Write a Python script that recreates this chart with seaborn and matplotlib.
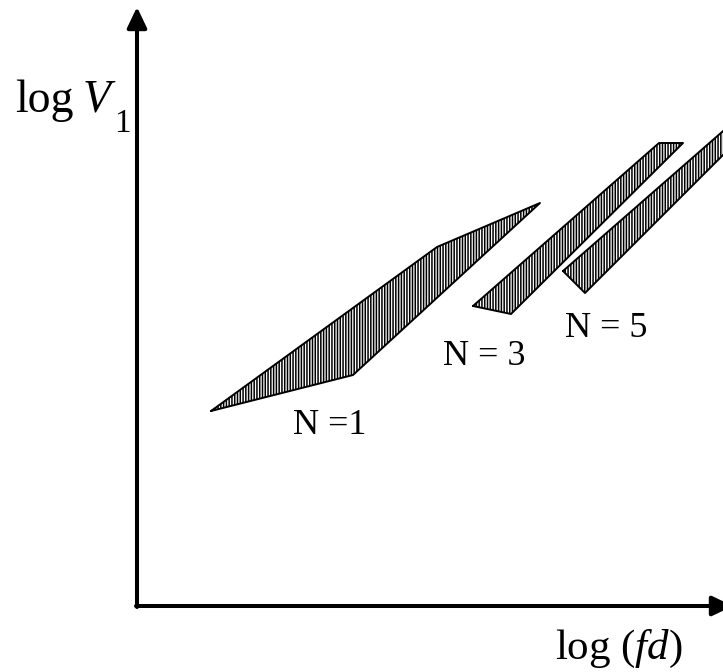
import matplotlib
matplotlib.use("Agg")
import matplotlib.pyplot as plt
import seaborn as sns
import pandas as pd

# Operating regions in the log(fd) - log V1 plane (schematic units)
n1_x = [211, 353, 540, 437]
n1_y = [411, 375, 203, 247]
n3_x = [473, 511, 683, 659]
n3_y = [306, 314, 143, 143]
n5_x = [563, 585, 745, 738]
n5_y = [271, 293, 133, 118]
region_labels = ["N =1", "N = 3", "N = 5"]
label_x = [293, 443, 565]
label_y = [434, 365, 337]

sns.set_theme(style="white")
plt.rcParams["font.family"] = ["Liberation Serif", "DejaVu Serif"]
plt.rcParams["mathtext.fontset"] = "custom"
plt.rcParams["mathtext.rm"] = "Liberation Serif"
plt.rcParams["mathtext.it"] = "Liberation Serif:italic"
plt.rcParams["hatch.linewidth"] = 1.1
plt.rcParams["hatch.color"] = "black"

fig = plt.figure(figsize=(7.23, 6.72), dpi=100)
ax = fig.add_axes([0, 0, 1, 1])

regions = [(n1_x, n1_y), (n3_x, n3_y), (n5_x, n5_y)]
for i, (xs, ys) in enumerate(regions):
    ax.fill(xs, ys, facecolor="white", hatch="|" * 6, edgecolor="black",
            linewidth=0)
    df = pd.DataFrame({"x": xs + xs[:1], "y": ys + ys[:1]})
    sns.lineplot(data=df, x="x", y="y", sort=False, estimator=None,
                 color="black", linewidth=1.4, ax=ax)
    ax.text(label_x[i], label_y[i], region_labels[i], fontsize=26,
            ha="left", va="baseline", color="black")

ax.set_xlim(0, 723)
ax.set_ylim(672, 0)
ax.set_xlabel("")
ax.set_ylabel("")
ax.axis("off")

# Coordinate axes with arrow heads
arrow_kw = dict(arrowstyle="-|>,head_length=1.05,head_width=0.5",
                color="black", linewidth=2.9, shrinkA=0, shrinkB=0)
ax.annotate("", xy=(137, 7), xytext=(137, 607), arrowprops=arrow_kw)
ax.annotate("", xy=(733, 606), xytext=(136, 606), arrowprops=arrow_kw,
            annotation_clip=False)

# Axis titles: log V_1 (vertical) and log (fd) (horizontal)
ax.text(15, 112, "log", fontsize=33, ha="left", va="baseline", color="black")
ax.text(83, 112, "V", fontsize=33, style="italic", ha="left",
        va="baseline", color="black")
ax.text(114, 132, "1", fontsize=24, ha="left", va="baseline", color="black")

ax.text(555, 659, r"$\mathrm{log}\ (fd)$", fontsize=31, ha="left",
        va="baseline", color="black")

fig.savefig("out.png", dpi=100)
